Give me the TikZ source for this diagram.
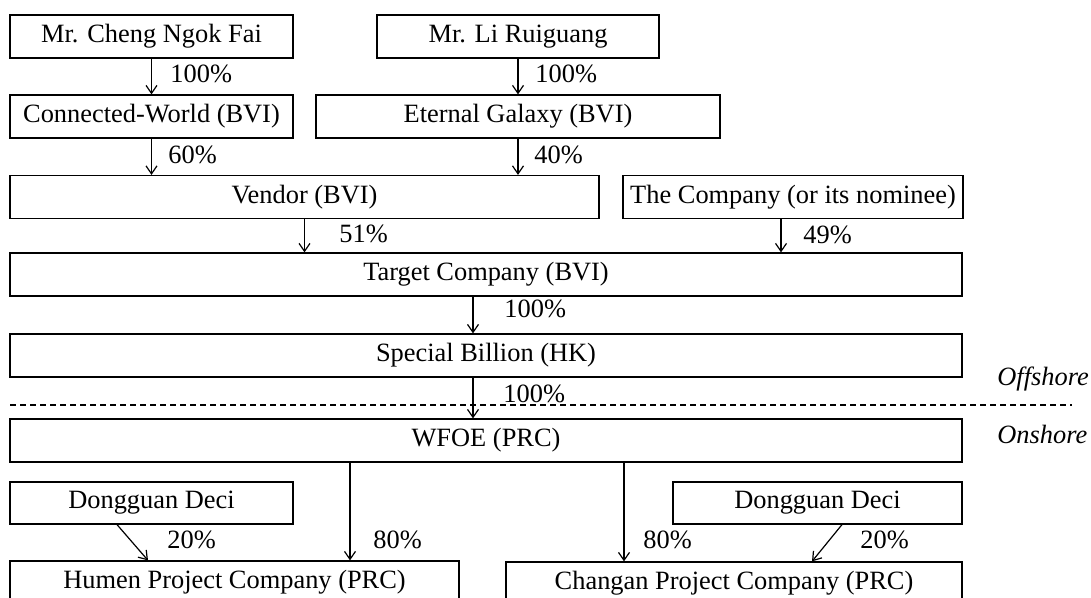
\documentclass[tikz,border=0pt]{standalone}
\usepackage{fontspec}
\setmainfont{Liberation Serif}
\usetikzlibrary{arrows.meta}
\begin{document}
\begin{tikzpicture}[x=0.5pt,y=-0.5pt,
  font=\fontsize{13.2pt}{15pt}\selectfont,
  box/.style={draw,line width=0.6pt,inner sep=0pt,minimum height=21.5pt},
  arr/.style={line width=0.6pt,-{Straight Barb[length=4pt,width=5.5pt,line width=0.6pt]}},
  pct/.style={inner sep=0pt,anchor=base west},
  zone/.style={inner sep=0pt,anchor=base west,font=\fontsize{13.2pt}{15pt}\selectfont\itshape}]
\useasboundingbox (0,0) rectangle (1091,598);
% boxes
\node[box,minimum width=141.5pt] (cheng) at (151.5,36.5) {Mr. Cheng Ngok Fai};
\node[box,minimum width=141pt] (li) at (518,36.5) {Mr. Li Ruiguang};
\node[box,minimum width=141.5pt] (conn) at (151.5,116.5) {Connected-World (BVI)};
\node[box,minimum width=202pt] (eternal) at (518,116.5) {Eternal Galaxy (BVI)};
\node[box,minimum width=294.5pt] (vendor) at (304.5,197) {Vendor (BVI)};
\node[box,minimum width=170pt] (company) at (793,197) {The Company (or its nominee)};
\node[box,minimum width=476pt] (target) at (486,274.5) {Target Company (BVI)};
\node[box,minimum width=476pt] (sb) at (486,355.5) {Special Billion (HK)};
\node[box,minimum width=476pt] (wfoe) at (486,440.5) {WFOE (PRC)};
\node[box,minimum width=141.5pt,minimum height=21pt] (dg1) at (151.5,503) {Dongguan Deci};
\node[box,minimum width=144.5pt,minimum height=21pt] (dg2) at (817.5,503) {Dongguan Deci};
\node[box,minimum width=224.5pt] (humen) at (234.5,582.5) {Humen Project Company (PRC)};
\node[box,minimum width=228pt] (changan) at (734,583.5) {Changan Project Company (PRC)};
% arrows
\draw[arr] (cheng.south) -- (cheng.south |- conn.north);
\draw[arr] (li.south) -- (li.south |- eternal.north);
\draw[arr] (conn.south) -- (conn.south |- vendor.north);
\draw[arr] (eternal.south) -- (eternal.south |- vendor.north);
\draw[arr] (vendor.south) -- (vendor.south |- target.north);
\draw[arr] ([xshift=-6pt]company.south) -- ([xshift=-6pt]company.south |- target.north);
\draw[arr] ([xshift=-6.5pt]target.south) -- ([xshift=-6.5pt]target.south |- sb.north);
\draw[arr] ([xshift=-6.5pt]sb.south) -- ([xshift=-6.5pt]sb.south |- wfoe.north);
\draw[arr] ([xshift=-68pt]wfoe.south) -- ([xshift=-68pt]wfoe.south |- humen.north);
\draw[arr] ([xshift=69pt]wfoe.south) -- ([xshift=69pt]wfoe.south |- changan.north);
\draw[arr] ([xshift=-17.25pt]dg1.south) -- ([xshift=-43.25pt]humen.north);
\draw[arr] ([xshift=12.25pt]dg2.south) -- ([xshift=39pt]changan.north);
% percentages
\node[pct] (p1) at (170,83) {100\%};
\node[pct] (p2) at (535,83) {100\%};
\node[pct] (p3) at (168,164) {60\%};
\node[pct] (p4) at (534,164) {40\%};
\node[pct] (p5) at (339,243) {51\%};
\node[pct] (p6) at (803,244) {49\%};
\node[pct] (p7) at (504,318) {100\%};
\node[pct] (p8) at (503,402) {100\%};
\node[pct] (p9) at (167,548) {20\%};
\node[pct] (p10) at (373,548) {80\%};
\node[pct] (p11) at (643,548) {80\%};
\node[pct] (p12) at (860,548) {20\%};
% offshore / onshore
\coordinate (dl) at (10,405);
\coordinate (dr) at (1072,405);
\draw[line width=0.6pt,dash pattern=on 3pt off 2pt] (dl) -- (dr);
\node[zone] (off) at (997,386) {Offshore};
\node[zone] (on) at (997,443) {Onshore};
\end{tikzpicture}
\end{document}
